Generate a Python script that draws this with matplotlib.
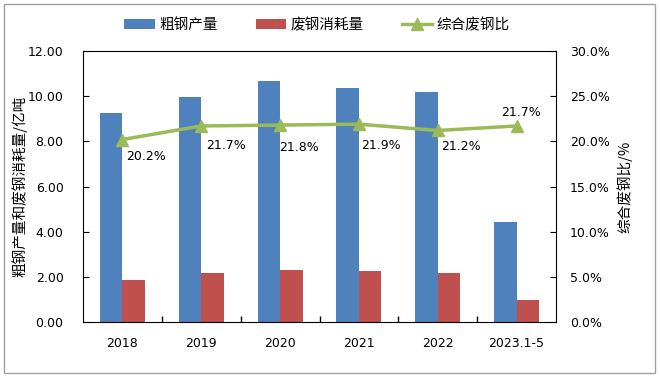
import matplotlib
matplotlib.use("Agg")
import matplotlib.pyplot as plt
from matplotlib.patches import Rectangle
import numpy as np

plt.rcParams['font.family'] = ['DejaVu Sans', 'Noto Sans CJK SC']
CJK = ['Noto Sans CJK SC', 'DejaVu Sans']

categories = ['2018', '2019', '2020', '2021', '2022', '2023.1-5']
crude_steel = [9.25, 9.96, 10.67, 10.36, 10.18, 4.43]
scrap_use = [1.86, 2.17, 2.30, 2.26, 2.17, 0.97]
scrap_ratio = [20.2, 21.7, 21.8, 21.9, 21.2, 21.7]
ratio_labels = ['20.2%', '21.7%', '21.8%', '21.9%', '21.2%', '21.7%']

blue = '#4F81BD'
red = '#C0504D'
green = '#9BBB59'

fig = plt.figure(figsize=(6.6, 3.77), dpi=100)
ax = fig.add_axes([83/660, 1-322/377, (556-83)/660, (322-51)/377])
ax2 = ax.twinx()

x = np.arange(len(categories))
w = 0.285
b1 = ax.bar(x - w/2, crude_steel, w, color=blue, label='粗钢产量', zorder=2)
b2 = ax.bar(x + w/2, scrap_use, w, color=red, label='废钢消耗量', zorder=2)
l1, = ax2.plot(x, scrap_ratio, color=green, lw=2.5, marker='^', ms=8, label='综合废钢比', zorder=3)

ax.set_xlim(-0.5, len(categories) - 0.5)
ax.set_ylim(0, 12)
ax.set_yticks(np.arange(0, 12.01, 2))
ax.set_yticklabels([f'{v:.2f}' for v in np.arange(0, 12.01, 2)])
ax2.set_ylim(0, 30)
ax2.set_yticks(np.arange(0, 30.01, 5))
ax2.set_yticklabels([f'{v:.1f}%' for v in np.arange(0, 30.01, 5)])

ax.set_xticks(x)
ax.set_xticklabels(categories)
ax.tick_params(axis='x', length=0, pad=11, labelsize=9)
ax.set_xticks(np.arange(0.5, len(categories) - 0.5, 1), minor=True)
ax.tick_params(axis='x', which='minor', direction='in', length=4, width=1)
ax.tick_params(axis='y', direction='in', length=4, labelsize=9, pad=14)
ax2.tick_params(axis='y', direction='in', length=4, labelsize=9, pad=10)

for a in (ax, ax2):
    for s in a.spines.values():
        s.set_visible(False)
ax.spines['left'].set_visible(True)
ax.spines['bottom'].set_visible(True)
ax.spines['top'].set_visible(True)
ax2.spines['right'].set_visible(True)
for s in (ax.spines['left'], ax.spines['bottom'], ax.spines['top'], ax2.spines['right']):
    s.set_color('black')

ax.set_ylabel('粗钢产量和废钢消耗量/亿吨', fontsize=10.5, family=CJK)
ax2.set_ylabel('综合废钢比/%', fontsize=10.5, rotation=90, family=CJK)
ax.yaxis.set_label_coords(-56/473, 0.5)
ax2.yaxis.set_label_coords(1 + 61/473, 0.5)

offsets = [(24, -17), (25, -20), (19, -22), (22, -21), (23, -16), (4, 13)]
for xi, yi, lab, (dx, dy) in zip(x, scrap_ratio, ratio_labels, offsets):
    ax2.annotate(lab, (xi, yi), xytext=(dx, dy), textcoords='offset pixels',
                 ha='center', va='center', fontsize=9, zorder=4)

fig.legend(handles=[b1, b2, l1], loc='center', bbox_to_anchor=(317/660, 1 - 25/377),
           ncol=3, frameon=False, prop={'family': CJK, 'size': 10.5},
           handlelength=2.1, columnspacing=2.6, handletextpad=0.3)

fig.patches.append(Rectangle((4/660, 4/377), 651/660, 369/377, transform=fig.transFigure,
                             fill=False, edgecolor='#A0A0A0', lw=1))

fig.savefig('out.png', dpi=100)
